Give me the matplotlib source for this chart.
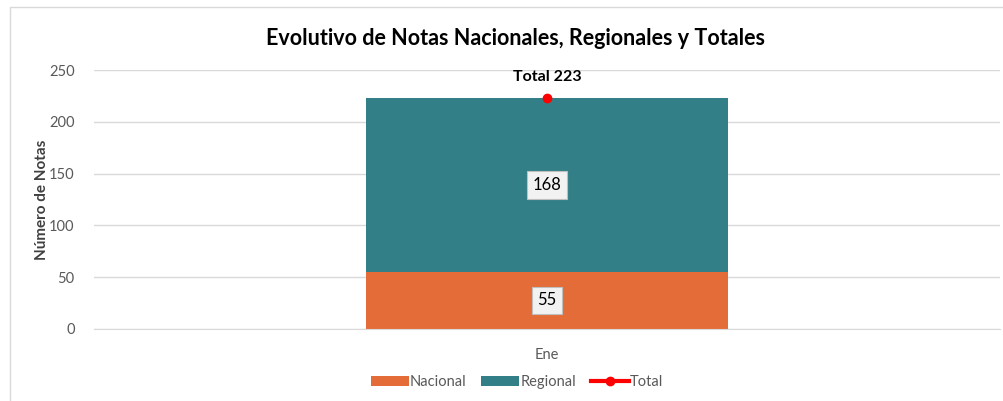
import matplotlib.pyplot as plt
from matplotlib.patches import Rectangle

plt.rcParams['font.family'] = ['Lato', 'DejaVu Sans']

meses = ['Ene']
nacional = [55]
regional = [168]
total = [223]

fig = plt.figure(figsize=(10.04, 4.01), dpi=100)
ax = fig.add_axes([0.0936, 0.1796, 0.9024, 0.6458])

# marco del grafico
fig.patches.append(Rectangle((0.010, -0.05), 1.2, 1.032, transform=fig.transFigure,
                             fill=False, edgecolor='#d9d9d9', linewidth=1))

x = range(len(meses))
b1 = ax.bar(x, nacional, width=0.4, color='#e46c38', label='Nacional', zorder=2)
b2 = ax.bar(x, regional, width=0.4, bottom=nacional, color='#337f87', label='Regional', zorder=2)
l1, = ax.plot(x, total, color='red', marker='o', markersize=6, linewidth=3, label='Total', zorder=3)

box = dict(boxstyle='square,pad=0.35', facecolor='#f2f2f2', edgecolor='#bfbfbf', linewidth=0.8)
for i in x:
    ax.text(i, nacional[i] / 2, str(nacional[i]), ha='center', va='center', fontsize=12, bbox=box, zorder=4)
    ax.text(i, nacional[i] + regional[i] / 2, str(regional[i]), ha='center', va='center', fontsize=12,
            bbox=box, zorder=4)
    ax.annotate('Total %d' % total[i], (i, total[i]), xytext=(0, 10), textcoords='offset points',
                ha='center', va='bottom', fontsize=11.5, fontweight='bold')

ax.set_xlim(-0.5, 0.5)
ax.set_ylim(0, 250)
ax.set_yticks(range(0, 251, 50))
ax.set_xticks(list(x))
ax.set_xticklabels(meses)
ax.yaxis.grid(True, color='#d9d9d9', linewidth=1, zorder=0)
ax.set_axisbelow(True)
for s in ['top', 'right', 'left']:
    ax.spines[s].set_visible(False)
ax.spines['bottom'].set_color('#d9d9d9')
ax.tick_params(axis='both', length=0, labelsize=10.5, colors='#595959', pad=14)
ax.tick_params(axis='x', pad=14)
ax.set_ylabel('Número de Notas', fontsize=11, fontweight='bold', color='#404040', labelpad=0)

fig.text(0.513, 0.905, 'Evolutivo de Notas Nacionales, Regionales y Totales', ha='center', va='center',
         fontsize=15.5, fontweight='bold')

leg = fig.legend([b1, b2, l1], ['Nacional', 'Regional', 'Total'], loc='center',
                 bbox_to_anchor=(0.515, 0.047), ncol=3, frameon=False, fontsize=10.5,
                 handlelength=2.6, handleheight=0.7, columnspacing=1.0, handletextpad=0.1)
for t in leg.get_texts():
    t.set_color('#595959')

fig.savefig('out.png', dpi=100)
